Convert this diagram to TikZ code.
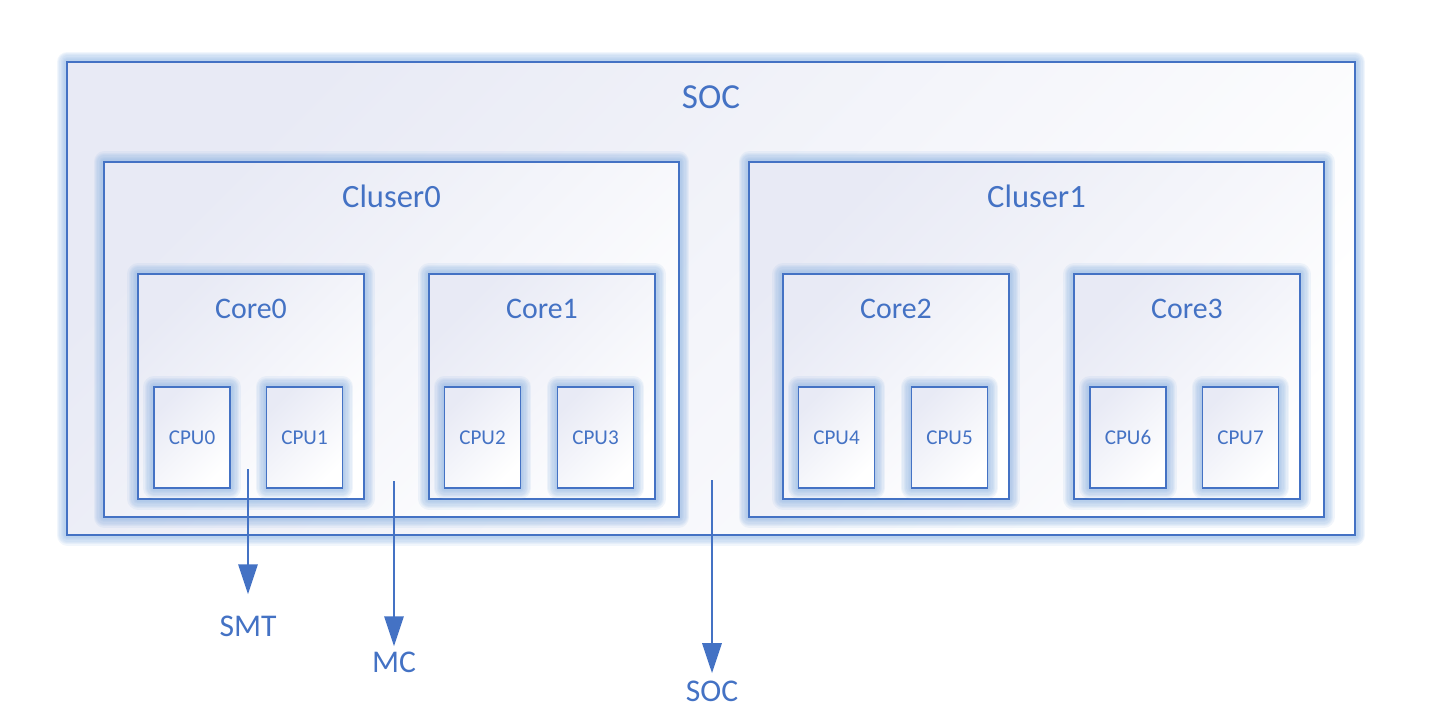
\documentclass[tikz,border=0pt]{standalone}
\usepackage{fontspec}
\setmainfont{Carlito}
\usetikzlibrary{arrows.meta,positioning}
\definecolor{borderblue}{HTML}{4472C4}
\definecolor{glowblue}{HTML}{8EB4E3}
\definecolor{fillgray}{HTML}{E8EAF5}
\tikzset{
  glowline/.style={draw=glowblue,draw opacity=.12,line join=round,line width=#1},
  glow/.style={preaction={glowline=12pt}, preaction={glowline=10.5pt},
               preaction={glowline=9pt}, preaction={glowline=7.5pt},
               preaction={glowline=6pt}, preaction={glowline=4.5pt},
               preaction={glowline=3pt}, preaction={glowline=1.5pt}},
  box/.style={glow, draw=borderblue, line width=.85pt, top color=fillgray, bottom color=white,
              shading angle=45, inner sep=0pt, outer sep=0pt},
  cpubox/.style={box, minimum width=1.52cm, minimum height=2.02cm, text=borderblue,
                 font=\fontsize{12}{14}\selectfont},
  corebox/.style={box, minimum width=4.52cm, minimum height=4.5cm},
  clusterbox/.style={box, minimum width=11.5cm, minimum height=7.1cm},
  title/.style={text=borderblue, inner sep=0pt, anchor=base},
  tag/.style={text=borderblue, inner sep=0pt, anchor=base, font=\fontsize{18}{22}\selectfont},
  arrowline/.style={draw=borderblue, line width=1.2pt, -{Triangle[width=11pt,length=17pt]}}
}
\begin{document}
\begin{tikzpicture}[x=0.02cm,y=-0.02cm]
\useasboundingbox (0,0) rectangle (1430,724);
% outer box
\node[box, minimum width=25.76cm, minimum height=9.46cm] (soc) at (711,298.5) {};
\node[title, font=\fontsize{20}{24}\selectfont] (soctitle) at ([yshift=-0.92cm]soc.north) {SOC};

% cluster 0
\node[clusterbox] (cluster0) at (391.5,339.5) {};
\node[title, font=\fontsize{18.5}{22}\selectfont] (cluster0title) at ([yshift=-0.9cm]cluster0.north) {Cluser0};
\node[corebox] (core0) at (251,386.5) {};
\node[title, font=\fontsize{17}{20}\selectfont] (core0title) at ([yshift=-0.88cm]core0.north) {Core0};
\node[cpubox] (cpu0) at (192,437.5) {CPU0};
\node[cpubox] (cpu1) at (304.5,437.5) {CPU1};
\node[corebox] (core1) at (542,386.5) {};
\node[title, font=\fontsize{17}{20}\selectfont] (core1title) at ([yshift=-0.88cm]core1.north) {Core1};
\node[cpubox] (cpu2) at (482.5,437.5) {CPU2};
\node[cpubox] (cpu3) at (595.5,437.5) {CPU3};

% cluster 1
\node[clusterbox] (cluster1) at (1036.5,339.5) {};
\node[title, font=\fontsize{18.5}{22}\selectfont] (cluster1title) at ([yshift=-0.9cm]cluster1.north) {Cluser1};
\node[corebox] (core2) at (896,386.5) {};
\node[title, font=\fontsize{17}{20}\selectfont] (core2title) at ([yshift=-0.88cm]core2.north) {Core2};
\node[cpubox] (cpu4) at (836.5,437.5) {CPU4};
\node[cpubox] (cpu5) at (949.5,437.5) {CPU5};
\node[corebox] (core3) at (1187,386.5) {};
\node[title, font=\fontsize{17}{20}\selectfont] (core3title) at ([yshift=-0.88cm]core3.north) {Core3};
\node[cpubox] (cpu6) at (1128,437.5) {CPU6};
\node[cpubox] (cpu7) at (1240.5,437.5) {CPU7};

% levels
\coordinate (smtfrom) at (248,469);
\coordinate (mcfrom) at (394,481);
\coordinate (socfrom) at (712,480);
\node[tag] (smt) at (248,636) {SMT};
\node[tag] (mc) at (394,672) {MC};
\node[tag] (soclevel) at (712,701) {SOC};
\draw[arrowline, shorten >=11.9pt] (smtfrom) -- (smt);
\draw[arrowline, shorten >=2.8pt] (mcfrom) -- (mc);
\draw[arrowline, shorten >=4pt] (socfrom) -- (soclevel);
\end{tikzpicture}
\end{document}
